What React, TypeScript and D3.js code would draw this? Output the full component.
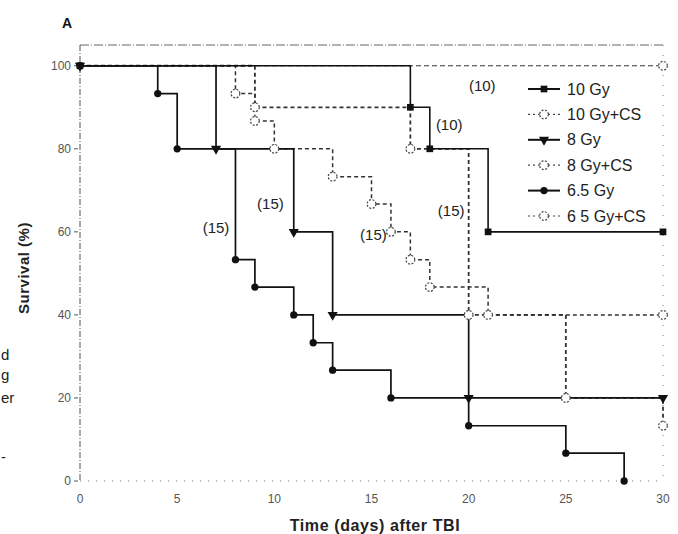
import * as d3 from 'd3';
import React, { useRef, useEffect } from 'react';

// survival data (days after TBI, % surviving)
const tenGyDays = [0, 17, 18, 21, 30];
const tenGySurv = [100, 90, 80, 60, 60];
const tenGyCSDays = [0, 30];
const tenGyCSSurv = [100, 100];
const eightGyDays = [0, 7, 11, 13, 20, 30];
const eightGySurv = [100, 80, 60, 40, 20, 20];
const eightGyCSDays = [0, 9, 17, 20, 25, 30];
const eightGyCSSurv = [100, 90, 80, 40, 20, 13.3];
const sixGyDays = [0, 4, 5, 8, 9, 11, 12, 13, 16, 20, 25, 28];
const sixGySurv = [100, 93.3, 80, 53.3, 46.7, 40, 33.3, 26.7, 20, 13.3, 6.7, 0];
const sixGyCSDays = [0, 8, 9, 10, 13, 15, 16, 17, 18, 21, 30];
const sixGyCSSurv = [100, 93.3, 86.7, 80, 73.3, 66.7, 60, 53.3, 46.7, 40, 40];

const seriesNames = ['10 Gy', '10 Gy+CS', '8 Gy', '8 Gy+CS', '6.5 Gy', '6 5 Gy+CS'];
const xTicks = [0, 5, 10, 15, 20, 25, 30];
const yTicks = [0, 20, 40, 60, 80, 100];

// group size annotations (text, day, %)
const noteText = ['(10)', '(10)', '(15)', '(15)', '(15)', '(15)'];
const noteDay = [20.7, 19.0, 9.8, 7.0, 19.1, 15.1];
const notePct = [95.3, 85.7, 66.7, 61.1, 65.0, 59.2];

function SurvivalChart({ width, height }) {
    const ref = useRef();

    useEffect(() => {
        const svg = d3.select(ref.current);
        svg.selectAll('*').remove();

        const font = 'Liberation Sans, Arial, sans-serif';
        const x = d3.scaleLinear().domain([0, 30]).range([80, 663]);
        const y = d3.scaleLinear().domain([0, 105]).range([481, 45]);

        const series = [
            { days: tenGyDays, surv: tenGySurv, dash: null, w: 1.6, sym: 'square', open: false },
            { days: tenGyCSDays, surv: tenGyCSSurv, dash: '5,3', w: 1.2, sym: 'circle', open: true },
            { days: eightGyDays, surv: eightGySurv, dash: null, w: 1.7, sym: 'tri', open: false },
            { days: eightGyCSDays, surv: eightGyCSSurv, dash: '4,3', w: 1.8, sym: 'circle', open: true },
            { days: sixGyDays, surv: sixGySurv, dash: null, w: 1.7, sym: 'circle', open: false },
            { days: sixGyCSDays, surv: sixGyCSSurv, dash: '4,3', w: 1.5, sym: 'circle', open: true },
        ];

        const symbolPath = (s) => {
            if (s === 'square') return d3.symbol(d3.symbolSquare, 45)();
            if (s === 'tri') return d3.symbol(d3.symbolTriangle, 45)();
            return d3.symbol(d3.symbolCircle, 42)();
        };

        const drawMarker = (g, s, open, cx, cy) => {
            const m = g.append('path')
                .attr('d', s.open ? d3.symbol(d3.symbolCircle, 60)() : symbolPath(s.sym))
                .attr('transform', `translate(${cx},${cy})` + (s.sym === 'tri' ? ' rotate(180)' : ''));
            if (open) {
                m.attr('fill', '#fff').attr('stroke', '#444').attr('stroke-width', 1.2).attr('stroke-dasharray', '2,1.5');
            } else {
                m.attr('fill', '#111');
            }
        };

        // frame: top border, right border, bottom axis, left axis
        svg.append('line').attr('x1', 80).attr('x2', 663).attr('y1', 45).attr('y2', 45)
            .attr('stroke', '#666').attr('stroke-width', 1).attr('stroke-dasharray', '9,2,1,2');
        svg.append('line').attr('x1', 663).attr('x2', 663).attr('y1', 45).attr('y2', 481)
            .attr('stroke', '#777').attr('stroke-width', 1).attr('stroke-dasharray', '1,9');
        svg.append('line').attr('x1', 80).attr('x2', 663).attr('y1', 481).attr('y2', 481)
            .attr('stroke', '#777').attr('stroke-width', 1).attr('stroke-dasharray', '1,7');
        svg.append('line').attr('x1', 80).attr('x2', 80).attr('y1', 45).attr('y2', 481)
            .attr('stroke', '#555').attr('stroke-width', 1).attr('stroke-dasharray', '6,2,1,2');

        // y ticks
        const yt = svg.append('g');
        yTicks.forEach(t => {
            yt.append('line').attr('x1', 74).attr('x2', 78).attr('y1', y(t)).attr('y2', y(t))
                .attr('stroke', '#555').attr('stroke-width', 1);
            yt.append('text').attr('x', 71).attr('y', y(t)).attr('dy', '0.35em')
                .attr('text-anchor', 'end').style('font-family', font).style('font-size', '12px')
                .attr('fill', '#555').text(t);
        });

        // x ticks
        const xt = svg.append('g');
        xTicks.forEach(t => {
            xt.append('text').attr('x', x(t)).attr('y', 503)
                .attr('text-anchor', 'middle').style('font-family', font).style('font-size', '12px')
                .attr('fill', '#555').text(t);
        });

        // curves
        const line = d3.line().curve(d3.curveStepAfter).x(d => x(d[0])).y(d => y(d[1]));
        const order = [1, 3, 5, 0, 2, 4];
        order.forEach(i => {
            const s = series[i];
            const pts = s.days.map((d, k) => [d, s.surv[k]]);
            svg.append('path').attr('d', line(pts)).attr('fill', 'none')
                .attr('stroke', s.dash ? '#333' : '#111').attr('stroke-width', s.w)
                .attr('stroke-dasharray', s.dash);
        });
        order.forEach(i => {
            const s = series[i];
            const g = svg.append('g');
            s.days.forEach((d, k) => {
                if (k === 0 && s.open) return;
                drawMarker(g, s, s.open, x(d), y(s.surv[k]));
            });
        });

        // annotations
        noteText.forEach((t, i) => {
            svg.append('text').attr('x', x(noteDay[i])).attr('y', y(notePct[i])).attr('dy', '0.35em')
                .attr('text-anchor', 'middle').style('font-family', font).style('font-size', '15px')
                .attr('fill', '#222').text(t);
        });

        // legend
        const lg = svg.append('g');
        seriesNames.forEach((name, i) => {
            const s = series[i];
            const ly = 89 + i * 25.4;
            lg.append('line').attr('x1', 528).attr('x2', 560).attr('y1', ly).attr('y2', ly)
                .attr('stroke', s.dash ? '#444' : '#111').attr('stroke-width', s.dash ? 1.2 : 2)
                .attr('stroke-dasharray', s.dash ? '2,3' : null);
            drawMarker(lg, s, s.open, 544, ly);
            lg.append('text').attr('x', 567).attr('y', ly).attr('dy', '0.35em')
                .style('font-family', font).style('font-size', '16px').attr('fill', '#222').text(name);
        });

        // axis titles
        svg.append('text').attr('x', 375).attr('y', 531).attr('text-anchor', 'middle')
            .style('font-family', font).style('font-size', '16px').style('font-weight', 'bold')
            .style('letter-spacing', '0.6px').attr('fill', '#222').text('Time (days) after TBI');
        svg.append('text').attr('transform', 'translate(29,268) rotate(-90)').attr('text-anchor', 'middle')
            .style('font-family', font).style('font-size', '15px').style('font-weight', 'bold')
            .style('letter-spacing', '0.5px').attr('fill', '#222').text('Survival (%)');

        // panel letter
        svg.append('text').attr('x', 62).attr('y', 28)
            .style('font-family', font).style('font-size', '14px').style('font-weight', 'bold')
            .attr('fill', '#111').text('A');

        // text from the neighbouring panel, at the left edge
        const edge = [['d', 360], ['g', 380], ['er', 403], ['-', 462]];
        edge.forEach(([t, yy]) => {
            svg.append('text').attr('x', 1).attr('y', yy)
                .style('font-family', font).style('font-size', '15px').attr('fill', '#222').text(t);
        });
    }, []);

    return <svg ref={ref} width={width} height={height}
        style={{ position: 'absolute', left: 0, top: 0, background: '#fff' }}></svg>;
}

export default function App() {
    return <SurvivalChart width={678} height={534} />;
}
